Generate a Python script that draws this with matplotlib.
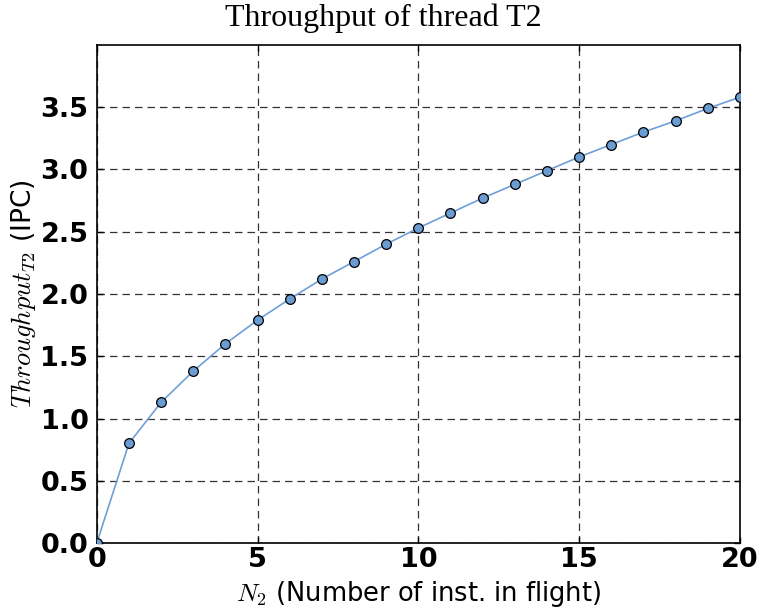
import matplotlib
matplotlib.use("Agg")
import matplotlib.pyplot as plt

n_inflight = list(range(21))
throughput = [0.0, 0.80, 1.13, 1.38, 1.60, 1.79, 1.96, 2.12, 2.26, 2.40, 2.53,
              2.65, 2.77, 2.88, 2.99, 3.10, 3.20, 3.30, 3.39, 3.49, 3.58]
xticks = [0, 5, 10, 15, 20]
yticks = [0.0, 0.5, 1.0, 1.5, 2.0, 2.5, 3.0, 3.5]

plt.rcParams['mathtext.fontset'] = 'cm'
fig = plt.figure(figsize=(7.62, 6.15), dpi=100)
ax = fig.add_axes([0.127, 0.117, 0.844, 0.810])

ax.plot(n_inflight, throughput, '-', color='#6f9fd8', lw=1.2, zorder=3)
ax.plot(n_inflight, throughput, 'o', mfc='#6a9bd1', mec='black', mew=0.9,
        ms=7, zorder=4, clip_on=True)

ax.set_xlim(0, 20)
ax.set_ylim(0, 4.0)
ax.set_xticks(xticks)
ax.set_yticks(yticks)
ax.set_xticklabels([str(v) for v in xticks], fontsize=19.5, fontweight='bold')
ax.set_yticklabels([f"{v:.1f}" for v in yticks], fontsize=19.5, fontweight='bold')
ax.tick_params(direction='in', length=4, width=1, top=True, right=True)
ax.tick_params(axis='x', pad=3)
ax.tick_params(axis='y', pad=6)
ax.grid(True, color='black', linestyle=(0, (6, 4)), linewidth=0.9, alpha=0.8)
for s in ax.spines.values():
    s.set_linewidth(1.2)

fig.text(0.503, 0.970, 'Throughput of thread T2', fontsize=23,
         family='Liberation Serif', ha='center', va='center')
ax.set_xlabel(r'$N_2$ (Number of inst. in flight)', fontsize=18.5, labelpad=4)
ax.set_ylabel(r'$Throughput_{T2}$ (IPC)', fontsize=19, labelpad=2)

fig.savefig('out.png', dpi=100)
